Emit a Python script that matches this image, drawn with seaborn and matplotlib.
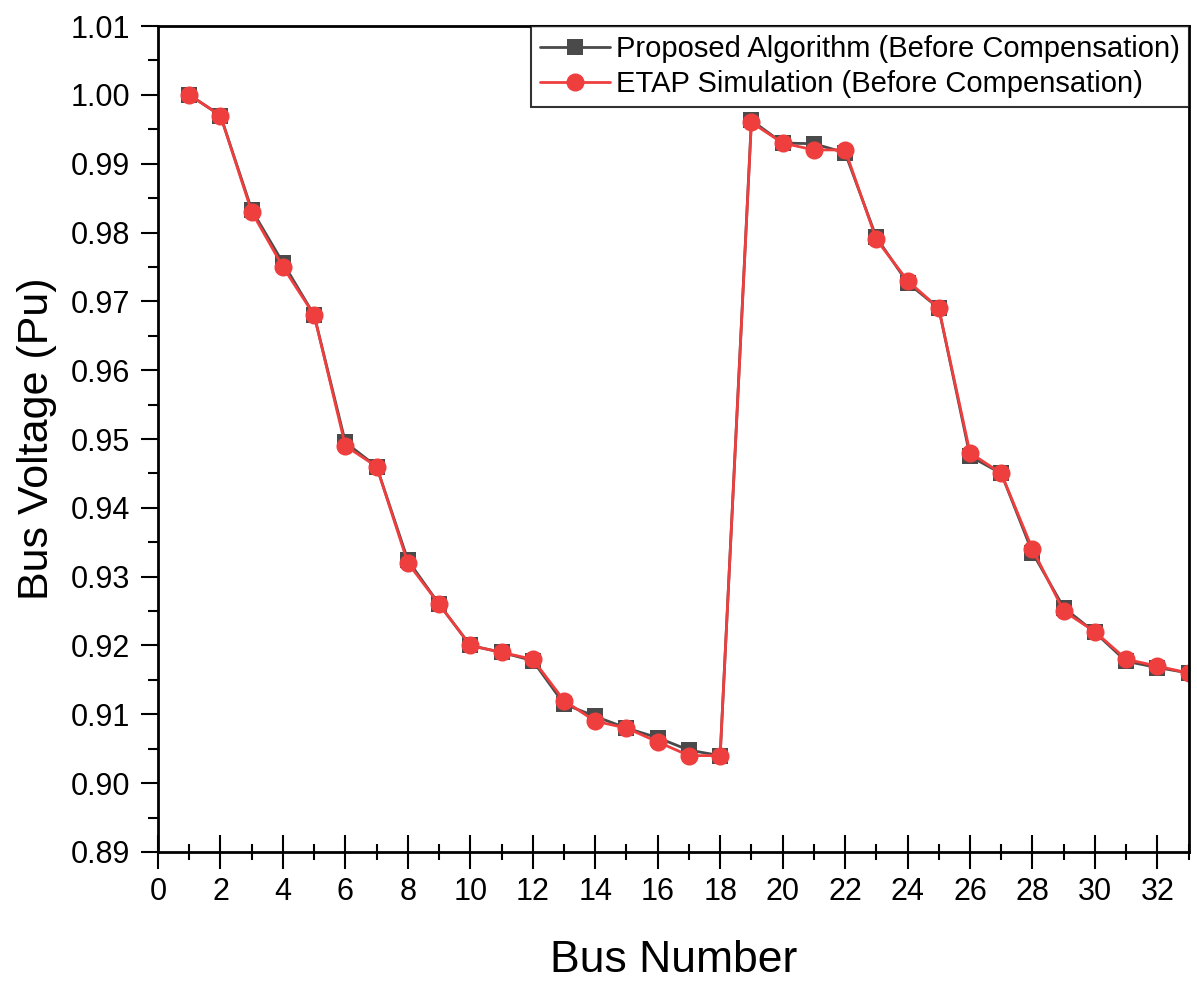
import numpy as np
import pandas as pd
import seaborn as sns
import matplotlib.pyplot as plt
from matplotlib.ticker import MultipleLocator, FormatStrFormatter

bus = list(range(1, 34))
proposed = [1.000, 0.997, 0.9833, 0.9756, 0.968, 0.9495, 0.946, 0.9324, 0.926, 0.920,
            0.919, 0.9178, 0.9115, 0.9097, 0.908, 0.9066, 0.9048, 0.904, 0.9963, 0.993,
            0.9929, 0.9916, 0.9793, 0.9727, 0.969, 0.9475, 0.945, 0.9335, 0.9255, 0.9219,
            0.9177, 0.9168, 0.916]
etap = [1.000, 0.997, 0.983, 0.975, 0.968, 0.949, 0.946, 0.932, 0.926, 0.920,
        0.919, 0.918, 0.912, 0.909, 0.908, 0.906, 0.904, 0.904, 0.996, 0.993,
        0.992, 0.992, 0.979, 0.973, 0.969, 0.948, 0.945, 0.934, 0.925, 0.922,
        0.918, 0.917, 0.916]

sns.set_style("ticks")
plt.rcParams['font.family'] = ['Liberation Sans', 'DejaVu Sans']
plt.rcParams['text.color'] = 'black'
plt.rcParams['axes.labelcolor'] = 'black'
plt.rcParams['xtick.color'] = 'black'
plt.rcParams['ytick.color'] = 'black'

df = pd.DataFrame({'bus': bus, 'proposed': proposed, 'etap': etap})

fig = plt.figure(figsize=(11.97, 9.82), dpi=100)
ax = fig.add_axes([0.132, 0.1324, 0.861, 0.8411])

sns.lineplot(data=df, x='bus', y='proposed', ax=ax, color='#4a4a4a', marker='s',
             markersize=12, markeredgewidth=0, linewidth=2,
             label='Proposed Algorithm (Before Compensation)')
sns.lineplot(data=df, x='bus', y='etap', ax=ax, color='#ef3e3e', marker='o',
             markersize=13, markeredgewidth=0, linewidth=2,
             label='ETAP Simulation (Before Compensation)')

ax.set_xlim(0, 33)
ax.set_ylim(0.89, 1.01)
ax.xaxis.set_major_locator(MultipleLocator(2))
ax.xaxis.set_minor_locator(MultipleLocator(1))
ax.yaxis.set_major_locator(MultipleLocator(0.01))
ax.yaxis.set_minor_locator(MultipleLocator(0.005))
ax.yaxis.set_major_formatter(FormatStrFormatter('%.2f'))

ax.tick_params(axis='x', which='major', direction='inout', length=24, width=1.5, labelsize=22, pad=6)
ax.tick_params(axis='x', which='minor', direction='inout', length=12, width=1.5)
ax.tick_params(axis='y', which='major', direction='out', length=12, width=1.5, labelsize=22, pad=8)
ax.tick_params(axis='y', which='minor', direction='out', length=7, width=1.5)

for s in ax.spines.values():
    s.set_linewidth(2)
    s.set_color('black')

ax.set_xlabel('Bus Number', fontsize=32, labelpad=24)
ax.set_ylabel('Bus Voltage (Pu)', fontsize=31, labelpad=10)

leg = ax.legend(loc='upper right', borderaxespad=0, fontsize=21, frameon=True,
                fancybox=False, handlelength=2.4, handletextpad=0.2,
                borderpad=0.3, labelspacing=0.25)
leg.get_frame().set_edgecolor('black')
leg.get_frame().set_linewidth(1.5)

fig.savefig('out.png', dpi=100)
